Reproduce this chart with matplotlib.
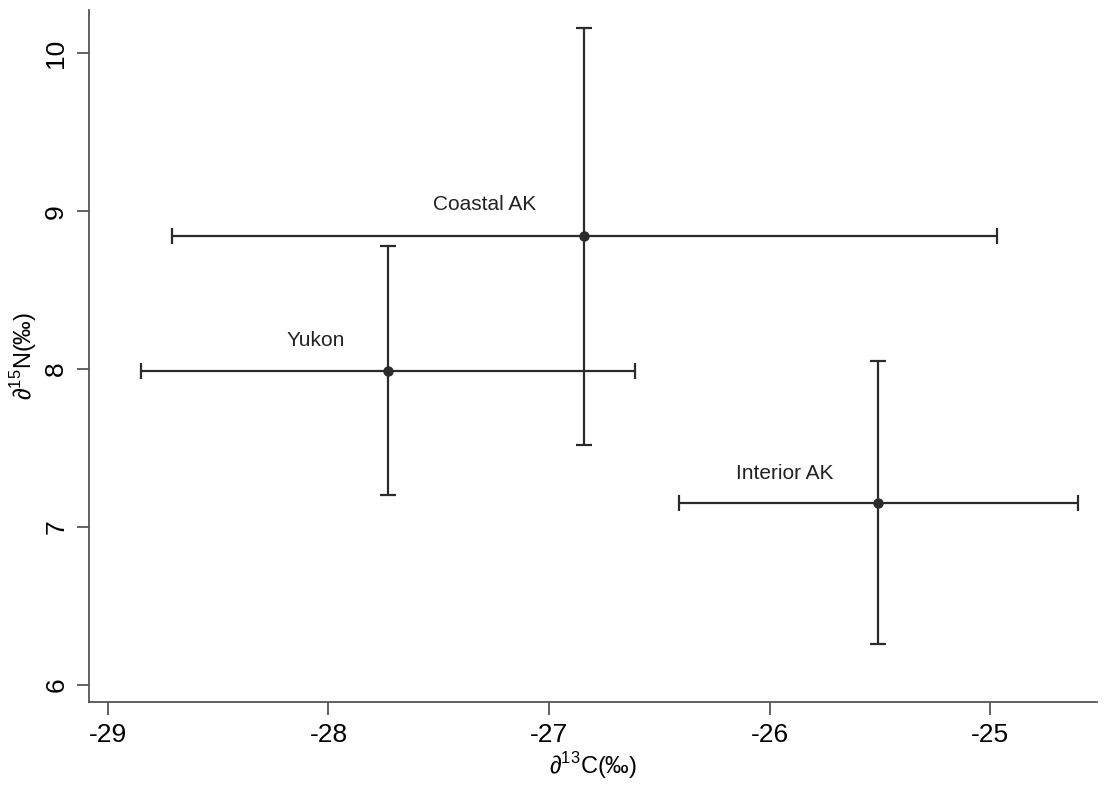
import numpy as np
import matplotlib
matplotlib.use('Agg')
from matplotlib import pyplot as plt

plt.rcParams['font.family'] = ['Liberation Sans', 'DejaVu Sans']
plt.rcParams['mathtext.fontset'] = 'custom'
plt.rcParams['mathtext.rm'] = 'Liberation Sans'

# group means and ranges
groups = ['Coastal AK', 'Yukon', 'Interior AK']
c13_mean = [-26.84, -27.73, -25.51]
c13_low = [-28.71, -28.85, -26.41]
c13_high = [-24.97, -26.61, -24.60]
n15_mean = [8.84, 7.99, 7.15]
n15_low = [7.52, 7.20, 6.26]
n15_high = [10.16, 8.78, 8.05]

# where the group names sit
label_x = [-27.29, -28.06, -25.93]
label_y = [9.04, 8.18, 7.34]

x_ticks = [-29, -28, -27, -26, -25]
y_ticks = [6, 7, 8, 9, 10]

fig = plt.figure(figsize=(11.12, 7.87), dpi=100)
ax = fig.add_axes([0.080, 0.108, 0.9065, 0.879])

col = '#2b2b2b'
for i in range(len(groups)):
    ax.errorbar(c13_mean[i], n15_mean[i],
                xerr=[[c13_mean[i] - c13_low[i]], [c13_high[i] - c13_mean[i]]],
                yerr=[[n15_mean[i] - n15_low[i]], [n15_high[i] - n15_mean[i]]],
                fmt='o', color=col, ecolor=col, markersize=6.5,
                elinewidth=1.6, capsize=6, capthick=1.6)
    ax.text(label_x[i], label_y[i], groups[i], ha='center', va='center',
            fontsize=15, color='#222222')

ax.set_xlim(-29.086, -24.515)
ax.set_ylim(5.892, 10.272)
ax.set_xticks(x_ticks)
ax.set_yticks(y_ticks)
ax.set_xticklabels([str(t) for t in x_ticks], fontsize=19)
ax.set_yticklabels([str(t) for t in y_ticks], fontsize=19, rotation=90, va='center')

for s in ['top', 'right']:
    ax.spines[s].set_visible(False)
for s in ['left', 'bottom']:
    ax.spines[s].set_color('#555555')
    ax.spines[s].set_linewidth(1.3)
ax.tick_params(axis='both', length=9, width=1.3, color='#555555', pad=6)

ax.set_xlabel('∂$^{13}$C(‰)', fontsize=17, labelpad=2)
ax.set_ylabel('∂$^{15}$N(‰)', fontsize=17, labelpad=4)

fig.savefig('out.png', dpi=100)
